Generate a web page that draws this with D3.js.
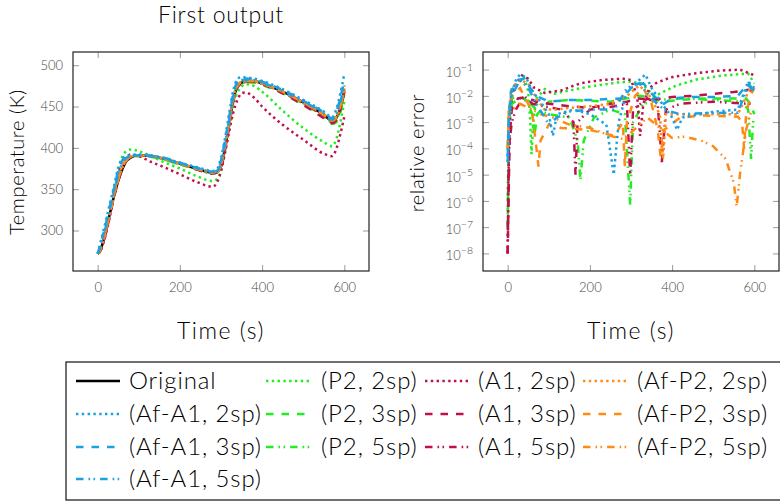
<!DOCTYPE html>
<html>
<head>
<meta charset="utf-8">
<script src="https://cdn.jsdelivr.net/npm/d3@7"></script>
<style>
body { margin: 0; background: #fff; }
text { font-family: Lato, "DejaVu Sans", sans-serif; font-weight: 300; }
</style>
</head>
<body>
<svg id="chart" width="780" height="502"></svg>
<script>
// time grid of the temperature curves (s)
const time = [0,5,10,20,30,40,50,60,70,80,100,130,160,200,240,280,290,300,310,320,330,340,350,360,380,400,450,500,550,570,580,590,600];

// temperatures (K)
const tempOriginal = [272,275,281,300,321,342,360,374,384,388,391,390,387,381,375,370,371,378,400,428,458,474,479,480,481,478,468,455,440,433,436,448,470];
const tempAfA1_2 = [272,282,292,312,333,354,376,387,390,391,392,391,388,382,377,372,374,388,412,442,470,483,486,485,484,481,471,458,444,437,446,465,490];
const tempAfA1_3 = [272,280,289,308,330,351,372,385,389,390,391,390,388,382,376,371,373,385,410,438,466,480,484,484,483,480,470,457,443,436,443,460,482];
const tempAfA1_5 = [272,278,286,305,327,348,368,382,388,390,391,390,387,381,376,371,372,382,406,434,462,477,482,482,482,479,469,456,442,434,440,455,476];
const tempP2_2 = [272,276,283,300,322,346,368,390,396,398,396,390,383,375,366,360,362,372,396,425,452,467,474,477,475,468,445,424,407,402,410,430,456];
const tempP2_3 = [272,275,281,299,320,342,361,376,386,389,390,389,386,380,374,369,370,378,401,430,459,474,478,479,479,476,466,452,437,429,431,442,465];
const tempP2_5 = [272,275,282,300,322,343,362,376,385,389,391,390,386,380,374,369,370,379,402,430,460,475,479,480,480,477,467,454,438,431,434,446,468];
const tempA1_2 = [272,274,279,296,318,345,368,383,389,392,390,383,377,368,359,353,358,372,395,420,443,458,466,467,461,450,428,410,393,390,398,416,438];
const tempA1_3 = [272,274,279,297,319,341,360,375,385,389,391,390,387,381,374,369,370,376,398,426,456,473,478,480,480,477,466,452,436,430,433,446,468];
const tempA1_5 = [272,275,280,298,320,342,361,375,385,389,391,390,387,381,375,370,371,379,401,429,458,474,479,480,481,478,467,454,439,432,435,447,469];
const tempAfP2_2 = [272,276,283,301,323,345,364,378,386,389,391,390,387,381,375,371,372,381,404,432,461,476,480,481,481,478,468,455,441,434,438,452,475];
const tempAfP2_3 = [272,276,282,300,322,344,363,377,386,389,391,390,387,381,375,370,372,380,403,431,460,475,480,481,481,478,468,455,440,433,437,450,472];
const tempAfP2_5 = [272,275,281,300,321,343,362,376,385,389,391,390,387,381,375,370,371,379,402,430,459,475,479,481,481,478,468,455,440,433,436,449,471];

// relative error, [time, error]
const errAfA1_2 = [[0,3e-5],[3,1e-3],[8,1e-2],[20,4e-2],[30,6.5e-2],[45,5e-2],[60,1.5e-2],[80,6e-3],[100,2e-3],[110,3e-4],[120,2e-3],[160,3e-3],[200,2e-3],[240,8e-4],[258,1e-5],[270,1e-3],[290,1.5e-2],[320,4e-2],[335,6.5e-2],[350,2e-2],[380,4e-3],[400,1.5e-3],[412,5e-4],[425,1.5e-3],[500,2.5e-3],[560,3e-3],[585,3.5e-2],[600,2e-2]];
const errAfA1_3 = [[0,5e-5],[3,2e-3],[8,1.5e-2],[25,4e-2],[40,4.5e-2],[55,2e-2],[70,1e-2],[100,6e-3],[150,7e-3],[200,7e-3],[280,8e-3],[300,2e-2],[330,3e-2],[355,1e-2],[380,5e-3],[400,8e-3],[450,9e-3],[500,9e-3],[560,1e-2],[585,3e-2],[600,1.5e-2]];
const errAfA1_5 = [[0,3e-5],[3,1e-3],[10,1e-2],[30,4e-2],[50,2e-2],[70,5e-3],[90,1.5e-3],[100,8e-4],[120,1.5e-3],[150,2.5e-3],[200,3e-3],[260,3e-3],[290,2e-2],[320,3e-2],[350,8e-3],[380,3e-3],[420,2e-3],[480,2.2e-3],[560,2.3e-3],[585,2.5e-2],[600,1.5e-2]];
const errP2_2 = [[0,1e-6],[3,1e-3],[8,8e-3],[20,2.5e-2],[40,5e-2],[50,1.5e-2],[55,1e-3],[58,6e-5],[62,1e-3],[70,8e-3],[90,1.8e-2],[113,1.2e-2],[150,1.6e-2],[194,2.2e-2],[266,3.2e-2],[300,3.5e-2],[325,3e-2],[345,1.5e-2],[359,1e-2],[411,2.5e-2],[460,4.2e-2],[524,6e-2],[585,7e-2],[600,3e-2]];
const errP2_3 = [[0,1e-7],[3,1e-3],[10,8e-3],[25,1e-2],[45,7e-3],[60,2e-3],[65,3e-4],[72,2e-3],[100,6e-3],[150,7e-3],[200,6.5e-3],[250,6e-3],[290,8e-3],[320,1e-2],[350,9e-3],[380,6e-3],[420,7e-3],[480,8e-3],[540,8e-3],[580,8e-3],[590,5e-3],[600,2e-3]];
const errP2_5 = [[0,1e-7],[3,5e-4],[10,5e-3],[30,8e-3],[50,6e-3],[70,3e-3],[100,2e-3],[150,1.5e-3],[170,2e-4],[177,6e-6],[185,2e-4],[210,1.5e-3],[250,3e-3],[285,2e-3],[298,7e-7],[305,1e-3],[330,5e-3],[370,7e-3],[420,8e-3],[500,7e-3],[570,6e-3],[585,3e-3],[592,4e-5],[597,1e-3],[600,1.5e-3]];
const errA1_2 = [[0,1e-8],[2,1e-5],[5,1e-3],[10,1e-2],[20,3e-2],[35,6e-2],[50,4.5e-2],[65,2e-2],[90,1.3e-2],[130,1.6e-2],[165,2.6e-2],[190,3.3e-2],[230,4e-2],[280,4.5e-2],[300,4e-2],[315,1e-2],[322,3e-4],[330,5e-3],[345,2e-2],[360,3e-2],[395,5e-2],[450,7e-2],[510,9e-2],[565,1e-1],[590,7e-2],[600,6e-2]];
const errA1_3 = [[0,1e-8],[2,1e-6],[5,3e-4],[10,3e-3],[25,8e-3],[45,9e-3],[70,6e-3],[100,5e-3],[150,4e-3],[200,3.5e-3],[250,5e-3],[290,6e-3],[320,8e-3],[350,7e-3],[400,9e-3],[450,1e-2],[500,1.2e-2],[550,1.4e-2],[585,1.7e-2],[600,1.5e-2]];
const errA1_5 = [[0,1e-8],[3,1e-4],[10,1e-3],[20,3e-3],[40,1e-2],[60,5e-3],[90,4e-3],[130,3e-3],[160,1e-3],[165,1e-5],[170,1e-3],[200,3e-3],[260,4e-3],[290,5e-3],[298,1e-5],[305,3e-3],[340,8e-3],[365,5e-3],[375,3e-5],[385,3e-3],[420,5e-3],[500,6e-3],[580,5e-3],[600,5e-3]];
const errAfP2_2 = [[0,1e-4],[3,3e-3],[10,2e-2],[30,4e-2],[50,3e-2],[70,8e-3],[90,3e-3],[120,3e-3],[150,3.5e-3],[200,4e-3],[250,5e-3],[290,1e-2],[320,2.5e-2],[345,1e-2],[370,2e-3],[378,4e-5],[385,2e-3],[420,2e-3],[480,2e-3],[560,2e-3],[590,2e-2],[600,1.5e-2]];
const errAfP2_3 = [[0,1e-4],[3,3e-3],[10,1e-2],[30,2e-2],[50,5e-3],[60,2e-3],[70,1e-4],[75,2e-5],[80,2e-4],[100,8e-4],[130,6e-4],[200,5e-4],[260,3e-4],[280,1e-3],[285,2e-5],[290,1e-3],[310,1e-2],[330,2e-2],[350,5e-3],[365,5e-4],[372,5e-5],[380,5e-4],[420,1.5e-3],[480,1.8e-3],[560,1.6e-3],[570,1e-3],[575,1e-4],[580,2e-3],[590,1e-2],[600,2e-2]];
const errAfP2_5 = [[0,1e-4],[3,2e-3],[10,3e-3],[30,5e-3],[60,3e-3],[80,2e-3],[110,1.5e-3],[150,8e-4],[200,6e-4],[250,3e-4],[280,2.3e-4],[300,4e-4],[340,1.5e-3],[370,6e-4],[400,2.5e-4],[430,2.8e-4],[470,2e-4],[500,1.2e-4],[530,4e-5],[550,5e-6],[557,6e-7],[565,1e-5],[580,5e-4],[590,2e-3],[600,3e-3]];

// tick values
const xTicks = [0, 200, 400, 600];
const tempTicks = [300, 350, 400, 450, 500];
const errTicks = [1e-8, 1e-7, 1e-6, 1e-5, 1e-4, 1e-3, 1e-2, 1e-1];

const BLUE = "#1ba1e2", GREEN = "#22ec22", RED = "#c0104c", ORANGE = "#ff8a14";
const DOT = "2.4,3.4", DASH = "7.5,8", DDD = "7.5,5,1.6,3.4,1.6,5";

const series = [
  {name: "Original", color: "#000", dash: null, temp: tempOriginal, err: null, col: 0, row: 0},
  {name: "(P2, 2sp)", color: GREEN, dash: DOT, temp: tempP2_2, err: errP2_2, col: 1, row: 0},
  {name: "(P2, 3sp)", color: GREEN, dash: DASH, temp: tempP2_3, err: errP2_3, col: 1, row: 1},
  {name: "(P2, 5sp)", color: GREEN, dash: DDD, temp: tempP2_5, err: errP2_5, col: 1, row: 2},
  {name: "(A1, 2sp)", color: RED, dash: DOT, temp: tempA1_2, err: errA1_2, col: 2, row: 0},
  {name: "(A1, 3sp)", color: RED, dash: DASH, temp: tempA1_3, err: errA1_3, col: 2, row: 1},
  {name: "(A1, 5sp)", color: RED, dash: DDD, temp: tempA1_5, err: errA1_5, col: 2, row: 2},
  {name: "(Af-P2, 2sp)", color: ORANGE, dash: DOT, temp: tempAfP2_2, err: errAfP2_2, col: 3, row: 0},
  {name: "(Af-P2, 3sp)", color: ORANGE, dash: DASH, temp: tempAfP2_3, err: errAfP2_3, col: 3, row: 1},
  {name: "(Af-P2, 5sp)", color: ORANGE, dash: DDD, temp: tempAfP2_5, err: errAfP2_5, col: 3, row: 2},
  {name: "(Af-A1, 2sp)", color: BLUE, dash: DOT, temp: tempAfA1_2, err: errAfA1_2, col: 0, row: 1},
  {name: "(Af-A1, 3sp)", color: BLUE, dash: DASH, temp: tempAfA1_3, err: errAfA1_3, col: 0, row: 2},
  {name: "(Af-A1, 5sp)", color: BLUE, dash: DDD, temp: tempAfA1_5, err: errAfA1_5, col: 0, row: 3}
];

const svg = d3.select("#chart");
const LEFT = {x0: 73, x1: 369, y0: 52, y1: 271};
const RIGHT = {x0: 483, x1: 779, y0: 52, y1: 271};

const xL = d3.scaleLinear().domain([-60, 660]).range([LEFT.x0, LEFT.x1]);
const yL = d3.scaleLinear().domain([251, 516]).range([LEFT.y1, LEFT.y0]);
const xR = d3.scaleLinear().domain([-60, 660]).range([RIGHT.x0, RIGHT.x1]);
const yR = d3.scaleLog().domain([Math.pow(10, -8.67), Math.pow(10, -0.33)]).range([RIGHT.y1, RIGHT.y0]);

function clip(id, b) {
  svg.append("clipPath").attr("id", id).append("rect")
    .attr("x", b.x0).attr("y", b.y0).attr("width", b.x1 - b.x0).attr("height", b.y1 - b.y0);
}
clip("clipL", LEFT);
clip("clipR", RIGHT);

// axes: ticks inside on all four sides, grey
function frame(b, x, y, yTicks, yFmt) {
  const g = svg.append("g");
  const st = s => s.call(a => a.select(".domain").remove())
    .call(a => a.selectAll("line").attr("stroke", "#9a9a9a"));
  g.append("g").attr("transform", `translate(0,${b.y1})`)
    .call(d3.axisBottom(x).tickValues(xTicks).tickSize(-6).tickPadding(12)).call(st);
  g.append("g").attr("transform", `translate(0,${b.y0})`)
    .call(d3.axisTop(x).tickValues(xTicks).tickSize(-6).tickFormat("")).call(st);
  g.append("g").attr("transform", `translate(${b.x0},0)`)
    .call(d3.axisLeft(y).tickValues(yTicks).tickSize(-6).tickPadding(10).tickFormat(yFmt)).call(st);
  g.append("g").attr("transform", `translate(${b.x1},0)`)
    .call(d3.axisRight(y).tickValues(yTicks).tickSize(-6).tickFormat("")).call(st);
  g.selectAll("text").attr("font-size", 13).attr("fill", "#444")
    .style("font-family", "Lato, 'DejaVu Sans', sans-serif");
  g.append("rect").attr("x", b.x0).attr("y", b.y0)
    .attr("width", b.x1 - b.x0).attr("height", b.y1 - b.y0)
    .attr("fill", "none").attr("stroke", "#222").attr("stroke-width", 1.2);
  return g;
}

frame(LEFT, xL, yL, tempTicks, d3.format("d"));
const gR = frame(RIGHT, xR, yR, errTicks, () => "");
// log tick labels 10^n
gR.selectAll("g.tick text").filter(function () { return +this.getAttribute("x") < 0; })
  .each(function (d) {
    const t = d3.select(this);
    t.text(null).attr("dy", "0.5em");
    t.append("tspan").text("10");
    t.append("tspan").attr("dy", -6).attr("font-size", 10.5).text("\u2212" + Math.round(-Math.log10(d)));
  });

// curves
const lineL = d3.line().x((d, i) => xL(time[i])).y(d => yL(d)).curve(d3.curveMonotoneX);
const lineR = d3.line().x(d => xR(d[0])).y(d => yR(d[1]));

const plotL = svg.append("g").attr("clip-path", "url(#clipL)");
const plotR = svg.append("g").attr("clip-path", "url(#clipR)");

series.forEach(s => {
  plotL.append("path").attr("d", lineL(s.temp))
    .attr("fill", "none").attr("stroke", s.color).attr("stroke-width", 2.5)
    .attr("stroke-dasharray", s.dash);
  if (s.err) {
    plotR.append("path").attr("d", lineR(s.err))
      .attr("fill", "none").attr("stroke", s.color).attr("stroke-width", 2.5)
      .attr("stroke-dasharray", s.dash);
  }
});

// titles and labels
svg.append("text").attr("x", 221).attr("y", 23).attr("text-anchor", "middle")
  .attr("font-size", 23).attr("letter-spacing", 0.8).text("First output");
svg.append("text").attr("x", 221).attr("y", 339).attr("text-anchor", "middle")
  .attr("font-size", 23).attr("letter-spacing", 1.5).text("Time (s)");
svg.append("text").attr("x", 631).attr("y", 339).attr("text-anchor", "middle")
  .attr("font-size", 23).attr("letter-spacing", 1.5).text("Time (s)");
svg.append("text").attr("transform", "translate(24,162) rotate(-90)").attr("text-anchor", "middle")
  .attr("font-size", 20).attr("letter-spacing", 0.6).text("Temperature (K)");
svg.append("text").attr("transform", "translate(424,153) rotate(-90)").attr("text-anchor", "middle")
  .attr("font-size", 20).attr("letter-spacing", 0.6).text("relative error");

// legend
const legend = svg.append("g");
legend.append("rect").attr("x", 66).attr("y", 362).attr("width", 740).attr("height", 138)
  .attr("fill", "none").attr("stroke", "#111").attr("stroke-width", 1.2);
const colLine = [76, 266, 425, 583];
const colText = [129, 321, 478, 637];
const rowY = [381, 414, 447, 479];
series.forEach(s => {
  const y = rowY[s.row];
  legend.append("line").attr("x1", colLine[s.col]).attr("x2", colLine[s.col] + 44)
    .attr("y1", y).attr("y2", y)
    .attr("stroke", s.color).attr("stroke-width", s.dash ? 2.5 : 2.6).attr("stroke-dasharray", s.dash);
  legend.append("text").attr("x", colText[s.col]).attr("y", y + 8)
    .attr("font-size", 24).attr("letter-spacing", 0.9).text(s.name);
});
</script>
</body>
</html>
